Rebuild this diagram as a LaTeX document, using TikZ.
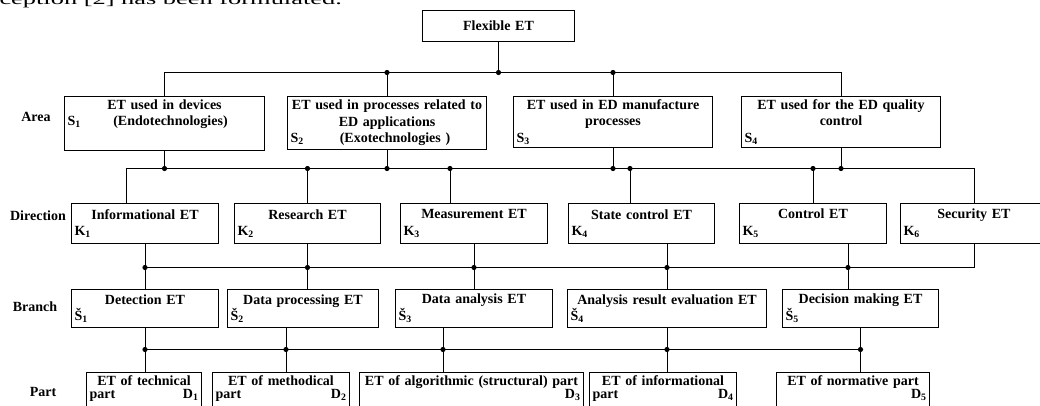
\documentclass[tikz,border=0pt]{standalone}
\usepackage{fontspec}
\setmainfont{Liberation Serif}

\tikzset{
  box/.style={draw, anchor=north west, align=center, inner sep=3pt,
    font=\bfseries\fontsize{14}{16.5}\selectfont},
  partbox/.style={box, font=\bfseries\fontsize{14}{13}\selectfont},
  rowname/.style={font=\bfseries\fontsize{14}{16.5}\selectfont},
}

\begin{document}
\begin{tikzpicture}[x=1pt, y=-1pt, line width=1pt]
    \useasboundingbox (0,0) rectangle (1040,405);
    \clip (0,0) rectangle (1040,405);

    % end of the page text above the figure
    \node[anchor=base west, inner sep=0pt] (prevtext) at (-1,4) {\scalebox{1.65}[1]{\fontsize{16}{19}\selectfont ception [2] has been formulated.}};

    \node[box, text width=146pt, minimum height=31pt] (flex) at (422,10) {Flexible ET};

    % area
    \node[rowname] (area) at (36,117) {Area};
    \node[box, text width=194pt, minimum height=49pt] (s1) at (64,96) {ET used in devices\\\makebox[\hsize]{\rlap{S\textsubscript{1}}\hfill\hspace{12pt}(Endotechnologies)\hfill}\\\strut};
    \node[box, text width=193pt, minimum height=53pt] (s2) at (287,96) {ET used in processes related to\\ED applications\\\makebox[\hsize]{\rlap{S\textsubscript{2}}\hfill\hspace{16pt}(Exotechnologies )\hfill}};
    \node[box, text width=193pt, minimum height=49pt] (s3) at (513,96) {ET used in ED manufacture\\processes\\\makebox[\hsize][l]{S\textsubscript{3}}};
    \node[box, text width=193pt, minimum height=49pt] (s4) at (741,96) {ET used for the ED quality\\control\\\makebox[\hsize][l]{S\textsubscript{4}}};

    % direction
    \node[rowname] (direction) at (38,216) {Direction};
    \node[box, text width=141pt, minimum height=40pt] (k1) at (71,203) {Informational ET\\\makebox[\hsize][l]{K\textsubscript{1}}};
    \node[box, text width=140pt, minimum height=40pt] (k2) at (234,203) {Research ET\\\makebox[\hsize][l]{K\textsubscript{2}}};
    \node[box, text width=141pt, minimum height=40pt] (k3) at (400,203) {Measurement ET\\\makebox[\hsize][l]{K\textsubscript{3}}};
    \node[box, text width=140pt, minimum height=40pt] (k4) at (568,203) {State control ET\\\makebox[\hsize][l]{K\textsubscript{4}}};
    \node[box, text width=141pt, minimum height=40pt] (k5) at (739,203) {Control ET\\\makebox[\hsize][l]{K\textsubscript{5}}};
    \node[box, text width=141pt, minimum height=40pt] (k6) at (900,203) {Security ET\\\makebox[\hsize][l]{K\textsubscript{6}}};

    % branch
    \node[rowname] (branch) at (35,307) {Branch};
    \node[box, text width=141pt, minimum height=38pt] (b1) at (71,289) {Detection ET\\\makebox[\hsize][l]{Š\textsubscript{1}}};
    \node[box, text width=145pt, minimum height=38pt] (b2) at (227,289) {Data processing ET\\\makebox[\hsize][l]{Š\textsubscript{2}}};
    \node[box, text width=151pt, minimum height=38pt] (b3) at (395,289) {Data analysis ET\\\makebox[\hsize][l]{Š\textsubscript{3}}};
    \node[box, text width=193pt, minimum height=38pt] (b4) at (567,289) {Analysis result evaluation ET\\\makebox[\hsize][l]{Š\textsubscript{4}}};
    \node[box, text width=150pt, minimum height=38pt] (b5) at (782,289) {Decision making ET\\\makebox[\hsize][l]{Š\textsubscript{5}}};

    % part
    \node[rowname] (part) at (43,392) {Part};
    \node[partbox, text width=109pt] (d1) at (86,372) {ET of technical\\\makebox[\hsize]{part\hfill D\textsubscript{1}}\\\strut};
    \node[partbox, text width=131pt] (d2) at (212,372) {ET of methodical\\\makebox[\hsize]{part\hfill D\textsubscript{2}}\\\strut};
    \node[partbox, text width=218pt] (d3) at (359,372) {ET of algorithmic (structural) part\\\makebox[\hsize][r]{D\textsubscript{3}}\\\strut};
    \node[partbox, text width=141pt] (d4) at (589,372) {ET of informational\\\makebox[\hsize]{part\hfill D\textsubscript{4}}\\\strut};
    \node[partbox, text width=147pt] (d5) at (776,372) {ET of normative part\\\makebox[\hsize][r]{D\textsubscript{5}}\\\strut};

    % bus lines
    \coordinate (busA) at (0,72.5);
    \coordinate (busB) at (0,168.5);
    \coordinate (busC) at (0,267.5);
    \coordinate (busD) at (0,349.5);

    % flexible ET -> areas
    \draw (flex.south) -- (flex.south |- busA);
    \draw (s1.north) |- (s4.north |- busA) -- (s4.north);
    \draw (s2.north) -- (s2.north |- busA);
    \draw (s3.north) -- (s3.north |- busA);
    \foreach \n in {flex.south, s2.north, s3.north}
        \fill (\n |- busA) circle[radius=2.6pt];

    % areas -> directions
    \coordinate (k1in) at ([xshift=55pt]k1.north west);
    \coordinate (k3in) at ([xshift=50pt]k3.north west);
    \coordinate (k4in) at ([xshift=62pt]k4.north west);
    \draw (k1in) |- (k6.north |- busB) -- (k6.north);
    \draw (k2.north) -- (k2.north |- busB);
    \draw (k3in) -- (k3in |- busB);
    \draw (k4in) -- (k4in |- busB);
    \draw (k5.north) -- (k5.north |- busB);
    \foreach \n in {s1, s2, s3, s4}
        \draw (\n.south) -- (\n.south |- busB);
    \foreach \n in {s1.south, k2.north, s2.south, k3in, s3.south, k4in, k5.north, s4.south}
        \fill (\n |- busB) circle[radius=2.6pt];

    % directions -> branches
    \coordinate (k4out) at ([xshift=99pt]k4.south west);
    \coordinate (k5out) at ([xshift=109pt]k5.south west);
    \draw (k1.south |- busC) -| (k6.south);
    \draw (k1.south) -- (k1.south |- b1.north);
    \draw (k2.south) -- (k2.south |- b2.north);
    \draw (k3.south) -- (k3.south |- b3.north);
    \draw (k4out) -- (k4out |- b4.north);
    \draw (k5out) -- (k5out |- b5.north);
    \foreach \n in {k1.south, k2.south, k3.south, k4out, k5out}
        \fill (\n |- busC) circle[radius=2.6pt];

    % branches -> parts
    \coordinate (b2out) at ([xshift=59pt]b2.south west);
    \coordinate (b3out) at ([xshift=48pt]b3.south west);
    \draw (b1.south |- busD) -- (b5.south |- busD);
    \draw (b1.south) -- (b1.south |- d1.north);
    \draw (b2out) -- (b2out |- d2.north);
    \draw (b3out) -- (b3out |- d3.north);
    \draw (b4.south) -- (b4.south |- d4.north);
    \draw (b5.south) -- (b5.south |- d5.north);
    \foreach \n in {b1.south, b2out, b3out, b4.south, b5.south}
        \fill (\n |- busD) circle[radius=2.6pt];
\end{tikzpicture}
\end{document}
